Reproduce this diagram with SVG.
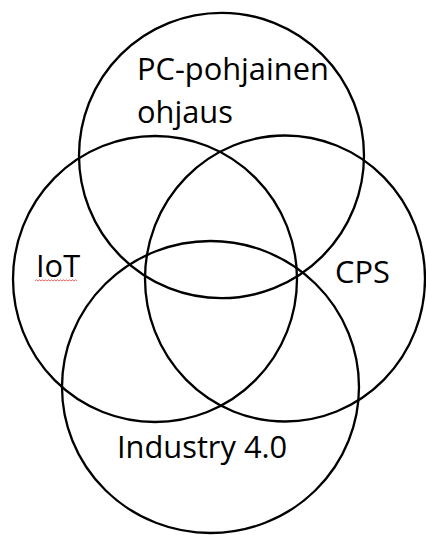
<svg xmlns="http://www.w3.org/2000/svg" width="426" height="535" viewBox="0 0 426 535">
<style>
.c{fill:none;stroke:#000;stroke-width:2.3}
.t{font-family:"Open Sans","Noto Sans",sans-serif;font-size:30.8px;fill:#000}
</style>
<rect width="426" height="535" fill="#fff"/>
<g id="pc">
<ellipse class="c" cx="221.5" cy="155.5" rx="142.5" ry="142.7"/>
<text class="t" x="137" y="80">PC-pohjainen</text>
<text class="t" x="137" y="122.7">ohjaus</text>
</g>
<g id="iot">
<ellipse class="c" cx="155" cy="279" rx="142" ry="143"/>
<text class="t" x="36" y="277">IoT</text>
<path d="M35 281 l1.5 -1.2 l1.5 1.2 l1.5 -1.2 l1.5 1.2 l1.5 -1.2 l1.5 1.2 l1.5 -1.2 l1.5 1.2 l1.5 -1.2 l1.5 1.2 l1.5 -1.2 l1.5 1.2 l1.5 -1.2 l1.5 1.2 l1.5 -1.2 l1.5 1.2 l1.5 -1.2 l1.5 1.2 l1.5 -1.2 l1.5 1.2 l1.5 -1.2 l1.5 1.2 l1.5 -1.2 l1.5 1.2 l1.5 -1.2 l1.5 1.2 l1.5 -1.2 l1.5 1.2" fill="none" stroke="#e04040" stroke-width="0.8"/>
</g>
<g id="cps">
<ellipse class="c" cx="285" cy="278.5" rx="140" ry="143"/>
<text class="t" x="335" y="283">CPS</text>
</g>
<g id="industry">
<ellipse class="c" cx="210.5" cy="387" rx="148.5" ry="146"/>
<text class="t" x="117" y="458">Industry 4.0</text>
</g>
<g id="connectors"/>
</svg>
